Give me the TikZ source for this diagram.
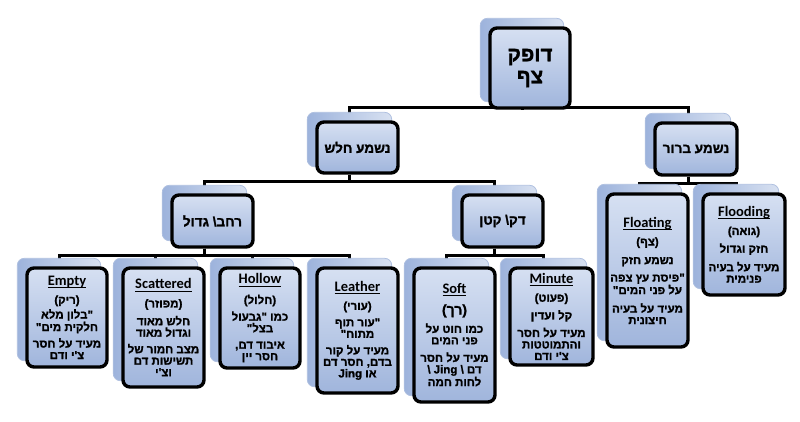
\documentclass[tikz,border=0pt]{standalone}
\usepackage{fontspec}
\newfontfamily\heb[Script=Hebrew,Ligatures=TeXOff,BoldFeatures={FakeBold=1.4}]{Liberation Sans}
\newfontfamily\en{Carlito}
\TeXXeTstate=1
\usetikzlibrary{calc}
\newcommand{\hb}[1]{\beginR #1\endR}
\newcommand{\ttl}[1]{{\en\bfseries\fontsize{14.5}{15}\selectfont\setbox0\hbox{#1}\rlap{\rule[-2.8pt]{\wd0}{1pt}}\box0}}
\definecolor{cardtop}{HTML}{D6E0F2}
\definecolor{cardbot}{HTML}{A0B5DC}
\definecolor{shadleft}{HTML}{9DB3DC}
\definecolor{shadright}{HTML}{D8E1F1}
\definecolor{shadedge}{HTML}{AFC0E0}
\pgfdeclarelayer{conn}
\pgfdeclarelayer{shad}
\pgfsetlayers{conn,shad,main}
\tikzset{
  card/.style={draw=black, line width=3.4pt, rounded corners=7pt,
    top color=cardtop, bottom color=cardbot, inner sep=0pt, align=center,
    font=\heb\bfseries\fontsize{11.5}{11.5}\selectfont},
  lvl/.style={card, font=\heb\bfseries\fontsize{13.5}{15}\selectfont},
  topcard/.style={card, font=\heb\bfseries\fontsize{20.5}{22}\selectfont},
  conn/.style={line width=3pt, draw=black},
  shadowbox/.style={draw=shadedge, line width=0.8pt, rounded corners=7pt,
    left color=shadleft, right color=shadright},
}
\newcommand{\card}[7]{% style, name, cx, cy, w, h, content
  \node[#1, minimum width=#5pt, minimum height=#6pt] (#2) at (#3,#4) {#7};
  \begin{pgfonlayer}{shad}
    \path[shadowbox] ($(#2.north west)+(-8,-8)$) rectangle ($(#2.south east)+(-8,-8)$);
  \end{pgfonlayer}}
\newcommand{\link}[3]{% parent, child, bus offset
  \begin{pgfonlayer}{conn}
    \draw[conn] ($(#1.south)+(-8,0)$) -- ($(#1.south)+(-8,#3)$) -| ($(#2.north)+(-8,0)$);
  \end{pgfonlayer}}
\begin{document}
\begin{tikzpicture}[x=1pt,y=-1pt]
\useasboundingbox (0,0) rectangle (800,421);
% top
\card{topcard}{top}{530}{68}{80}{80}{\hb{דופק}\\\hb{צף}}
% level 2
\card{lvl}{clear}{696}{149}{82}{52}{\hb{נשמע ברור}}
\card{lvl}{weak}{357.5}{147.5}{81}{51}{\hb{נשמע חלש}}
% level 3
\card{lvl}{wide}{212.5}{221}{81}{52}{\hb{רחב\textbackslash{} גדול}}
\card{lvl}{thin}{502.5}{221}{81}{52}{\hb{דק\textbackslash{} קטן}}
% leaves
\card{card}{empty}{67}{317.5}{80}{99}{\ttl{Empty}\\[7pt]\hb{(ריק)}\\[2pt]\hb{"בלון מלא}\\\hb{חלקית מים"}\\[4pt]\hb{מעיד על חסר}\\\hb{צ'י ודם}}
\card{card}{scat}{163.5}{327.5}{81}{119}{\ttl{Scattered}\\[7pt]\hb{(מפוזר)}\\[5pt]\hb{חלש מאוד}\\\hb{וגדול מאוד}\\[5pt]\hb{מצב חמור של}\\\hb{תשישות דם}\\\hb{וצ'י}}
\card{card}{hollow}{260}{318}{80}{100}{\ttl{Hollow}\\[7pt]\hb{(חלול)}\\[4pt]\hb{כמו "גבעול}\\\hb{בצל"}\\[5pt]\hb{איבוד דם,}\\\hb{חסר יין}}
\card{card}{leather}{357.5}{330.5}{81}{125}{\ttl{Leather}\\[7pt]\hb{(עורי)}\\[5pt]\hb{"עור תוף}\\\hb{מתוח"}\\[5pt]\hb{מעיד על קור}\\\hb{בדם, חסר דם}\\\hb{או Jing}}
\card{card}{soft}{454.5}{335}{81}{134}{\ttl{Soft}\\[7pt]{\fontsize{14}{15}\selectfont\hb{(רך)}}\\[5pt]\hb{כמו חוט על}\\\hb{פני המים}\\[6pt]\hb{מעיד על חסר}\\\hb{דם \textbackslash{} Jing \textbackslash}\\\hb{לחות חמה}}
\card{card}{minute}{551.5}{316.5}{83}{97}{\ttl{Minute}\\[7pt]\hb{(פעוט)}\\[5pt]\hb{קל ועדין}\\[5pt]\hb{מעיד על חסר}\\\hb{והתמוטטות}\\\hb{צ'י ודם}}
\card{card}{floating}{647.5}{270.5}{81}{153}{\ttl{Floating}\\[7pt]\hb{(צף)}\\[7pt]\hb{נשמע חזק}\\[6pt]\hb{"פיסת עץ צפה}\\\hb{על פני המים"}\\[7pt]\hb{מעיד על בעיה}\\\hb{חיצונית}}
\card{card}{flooding}{744}{244.5}{82}{101}{\ttl{Flooding}\\[7pt]\hb{(גואה)}\\[5pt]\hb{חזק וגדול}\\[6pt]\hb{מעיד על בעיה}\\\hb{פנימית}}
% connectors
\link{top}{weak}{-2}
\link{top}{clear}{-2}
\link{weak}{wide}{7}
\link{weak}{thin}{7}
\link{clear}{floating}{7}
\link{clear}{flooding}{7}
\link{wide}{empty}{7}
\link{wide}{scat}{7}
\link{wide}{hollow}{7}
\link{wide}{leather}{7}
\link{thin}{soft}{7}
\link{thin}{minute}{7}
\end{tikzpicture}
\end{document}
